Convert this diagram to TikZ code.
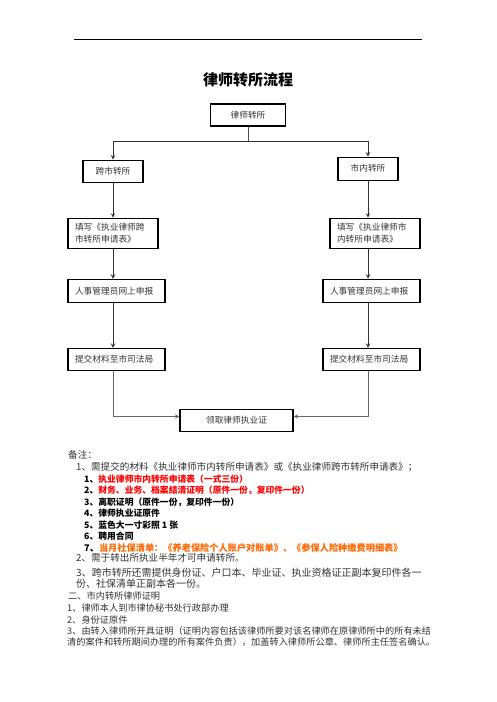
\documentclass[tikz,border=0pt]{standalone}
\usepackage{fontspec}
\setmainfont{Noto Sans CJK SC}
\usepackage{tikz}
\usetikzlibrary{calc}
\definecolor{sred}{HTML}{FF0000}
\definecolor{sorange}{HTML}{FF6600}
\definecolor{sgray}{HTML}{333333}
\newcommand{\boxfont}{\fontsize{8.7pt}{12pt}\selectfont}
\newcommand{\notefont}{\fontsize{9.6pt}{11pt}\selectfont}
\newcommand{\subfont}{\fontsize{8.8pt}{11pt}\selectfont\bfseries}
\newcommand{\smallfont}{\fontsize{9.2pt}{11pt}\selectfont}
\begin{document}
\begin{tikzpicture}[x=1pt,y=-1pt,
    CB/.style={draw=black,line width=1.1pt,rectangle,inner sep=0pt,font=\boxfont,text=sgray},
    LB/.style={CB,align=left,inner xsep=7pt},
    AR/.style={->,line width=1pt,draw=black!80,>=stealth},
    LN/.style={line width=1pt,draw=black!70},
    NT/.style={anchor=base west,inner sep=0pt,font=\notefont,text=sgray},
    SB/.style={anchor=base west,inner sep=0pt,font=\subfont},
    SM/.style={anchor=base west,inner sep=0pt,font=\smallfont,text=sgray}]
        \useasboundingbox (0,0) rectangle (496,702);
        % Header rule and title
        \draw[line width=0.9pt] (74,39) coordinate (rulel) -- (422,39) coordinate (ruler);
        \node[inner sep=0pt,font=\fontsize{15pt}{18pt}\selectfont\bfseries] (title) at (248,80) {律师转所流程};
        % Start box
        \node[CB,minimum width=75pt,minimum height=22pt] (start) at (248,115) {律师转所};
        \coordinate (split) at ($(start.south)+(0,15)$);
        % Two branches
        \node[CB,anchor=north,minimum width=60pt,minimum height=22pt] (kuashi) at ($(split)+(-135,18)$) {跨市转所};
        \node[CB,anchor=north,minimum width=60pt,minimum height=23pt] (shinei) at ($(split)+(120,15)$) {市内转所};
        % Application forms
        \node[LB,anchor=north,text width=76pt,minimum height=30pt] (formL) at ($(kuashi.south)+(0,35)$) {填写《执业律师跨\\市转所申请表》};
        \node[LB,anchor=north,text width=76pt,minimum height=30pt] (formR) at ($(shinei.south)+(7,37)$) {填写《执业律师市\\内转所申请表》};
        % Online report
        \node[LB,anchor=north west,text width=83pt,minimum height=23pt] (hrL) at ($(formL.south west)+(0,30)$) {人事管理员网上申报};
        \node[LB,anchor=north east,text width=83pt,minimum height=23pt] (hrR) at ($(formR.south east)+(0,30)$) {人事管理员网上申报};
        % Submit to the bureau
        \node[LB,anchor=north west,text width=83pt,minimum height=22pt] (subL) at ($(hrL.south west)+(0,45)$) {提交材料至市司法局};
        \node[LB,anchor=north east,text width=83pt,minimum height=22pt] (subR) at ($(hrR.south east)+(0,45)$) {提交材料至市司法局};
        % Final box
        \node[CB,anchor=north west,minimum width=113pt,minimum height=22pt] (licence) at ($(subL.south west)+(112,38)$) {领取律师执业证};
        % ARROWS
        \draw[LN] (start.south) -- (split);
        \draw[AR] (split) -| (kuashi.north);
        \draw[AR] (split) -| (shinei.north);
        \draw[AR] (kuashi.south) -- (formL.north);
        \draw[AR] (shinei.south) -- (shinei.south |- formR.north);
        \draw[AR] (formL.south) -- (formL.south |- hrL.north);
        \draw[AR] (shinei.south |- formR.south) -- (shinei.south |- hrR.north);
        \draw[AR] (formL.south |- hrL.south) -- (formL.south |- subL.north);
        \draw[AR] (shinei.south |- hrR.south) -- (shinei.south |- subR.north);
        % Both sides into the final box
        \draw[AR,draw=black!60] (formL.south |- subL.south) |- ([yshift=4pt]licence.west);
        \draw[AR,draw=black!60] (shinei.south |- subR.south) |- ([yshift=4pt]licence.east);
        % NOTES
        \node[NT] (beizhu) at (68,458.6) {备注：};
        \node[NT] (n1) at ($(beizhu.base west)+(8,12)$) {1、需提交的材料《执业律师市内转所申请表》或《执业律师跨市转所申请表》；};
        \node[SB] (s1) at ($(n1.base west)+(8,11.7)$) {1、\textcolor{sred}{执业律师市内转所申请表（一式三份）}};
        \node[SB] (s2) at ($(s1.base west)+(0,11.5)$) {2、\textcolor{sred}{财务、业务、档案结清证明（原件一份，复印件一份）}};
        \node[SB] (s3) at ($(s2.base west)+(0,11.5)$) {3、离职证明（原件一份，复印件一份）};
        \node[SB] (s4) at ($(s3.base west)+(0,11.5)$) {4、律师执业证原件};
        \node[SB] (s5) at ($(s4.base west)+(0,11.5)$) {5、蓝色大一寸彩照 1 张};
        \node[SB] (s6) at ($(s5.base west)+(0,11.5)$) {6、聘用合同};
        \node[SB,font=\fontsize{9.2pt}{11pt}\selectfont\bfseries] (s7) at ($(s6.base west)+(0,11.5)$) {7、\textcolor{sorange}{当月社保清单：《养老保险个人账户对账单》、《参保人险种缴费明细表》}};
        \node[NT] (n2) at ($(s7.base west)+(-8,10.4)$) {2、需于转出所执业半年才可申请转所。};
        \node[NT,font=\fontsize{10pt}{11pt}\selectfont] (n3) at ($(n2.base west)+(0,15.1)$) {3、跨市转所还需提供身份证、户口本、毕业证、执业资格证正副本复印件各一};
        \node[NT,font=\fontsize{10pt}{11pt}\selectfont] (n3b) at ($(n3.base west)+(0,10.3)$) {份、社保清单正副本各一份。};
        % Second part
        \node[SM] (sec2) at ($(n3b.base west)+(-8,12.4)$) {二、市内转所律师证明};
        \node[SM] (m1) at ($(sec2.base west)+(-1,12)$) {1、律师本人到市律协秘书处行政部办理};
        \node[SM] (m2) at ($(m1.base west)+(0,12)$) {2、身份证原件};
        \node[SM] (m3) at ($(m2.base west)+(0,11)$) {3、由转入律师所开具证明（证明内容包括该律师所要对该名律师在原律师所中的所有未结};
        \node[SM] (m3b) at ($(m3.base west)+(0,11)$) {清的案件和转所期间办理的所有案件负责），加盖转入律师所公章、律师所主任签名确认。};
\end{tikzpicture}
\end{document}
